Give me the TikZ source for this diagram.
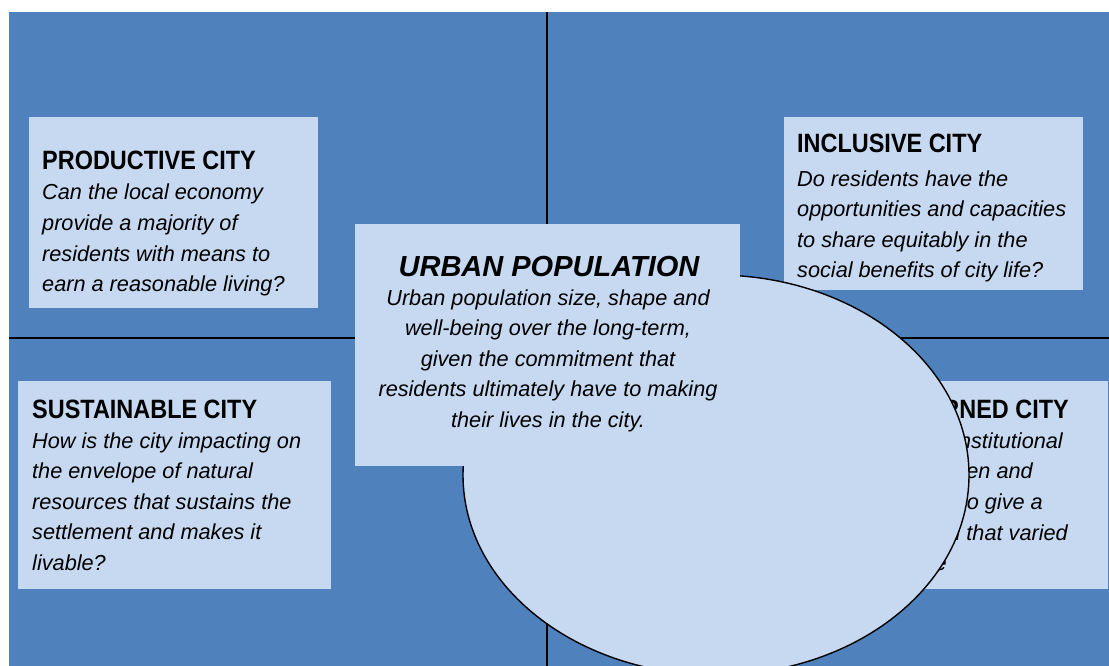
\documentclass[tikz,border=0pt]{standalone}
\usepackage{fontspec}
\setmainfont{Liberation Sans}
\newfontfamily\titlefont{Liberation Sans}[FakeStretch=0.885]
\usetikzlibrary{shapes.geometric}
\definecolor{bgblue}{HTML}{4F81BD}
\definecolor{boxblue}{HTML}{C6D9F1}
\tikzset{
  qbox/.style={fill=boxblue, inner sep=0pt, outer sep=0pt, anchor=north west},
  divline/.style={draw=black, line width=1.4pt},
  titletext/.style={inner sep=0pt, font=\titlefont\bfseries\fontsize{26.5pt}{30pt}\selectfont},
  bodytext/.style={inner sep=0pt, font=\itshape\fontsize{21.7pt}{30.6pt}\selectfont},
}
\begin{document}
\begin{tikzpicture}[x=1pt, y=-1pt]
\useasboundingbox (0,0) rectangle (1109,666);
% background
\fill[bgblue] (9,12) rectangle (1109,666);
% dividing lines
\coordinate (hl) at (9,338);
\coordinate (hr) at (1109,338);
\coordinate (vt) at (547,12);
\coordinate (vb) at (547,666);
\draw[divline] (hl) -- (hr);
\draw[divline] (vt) -- (vb);
% quadrant boxes
\node[qbox, minimum width=289pt, minimum height=191pt] (prodbox) at (29,117) {};
\node[qbox, minimum width=299pt, minimum height=173pt] (inclbox) at (784,117) {};
\node[qbox, minimum width=313pt, minimum height=208pt] (sustbox) at (18,381) {};
\node[qbox, minimum width=321pt, minimum height=208pt] (govbox) at (787,381) {};
% productive
\node[titletext, anchor=base west] (prodtitle) at (42,170) {PRODUCTIVE CITY};
\node[bodytext, anchor=base west] (prodbody) at (42,200) {\parbox[t]{280pt}{\raggedright
Can the local economy\\
provide a majority of\\
residents with means to\\
earn a reasonable living?}};
% inclusive
\node[titletext, anchor=base west] (incltitle) at (797,153) {INCLUSIVE CITY};
\node[bodytext, anchor=base west] (inclbody) at (797,186) {\parbox[t]{290pt}{\raggedright
Do residents have the\\
opportunities and capacities\\
to share equitably in the\\
social benefits of city life?}};
% sustainable
\node[titletext, anchor=base west] (susttitle) at (32,418) {SUSTAINABLE CITY};
\node[bodytext, anchor=base west] (sustbody) at (32,448) {\parbox[t]{300pt}{\raggedright
How is the city impacting on\\
the envelope of natural\\
resources that sustains the\\
settlement and makes it\\
livable?}};
% well-governed (mostly hidden behind the ellipse)
\node[titletext, anchor=base east] (govtitle) at (1069,418) {WELL-GOVERNED CITY};
\node[bodytext, anchor=base east] (gov1) at (1063,448) {Is there the institutional};
\node[bodytext, anchor=base east] (gov2) at (1033,478) {ties between citizen and};
\node[bodytext, anchor=base east] (gov3) at (1043,509) {the state to give a};
\node[bodytext, anchor=base east] (gov4) at (1068,540) {voice to all that varied};
\node[bodytext, anchor=base east] (gov5) at (947,570) {residents have};
% ellipse
\node[ellipse, draw=black, line width=1.4pt, fill=boxblue, minimum width=506pt, minimum height=400pt, inner sep=0pt] (popell) at (716,475) {};
% urban population box
\node[qbox, minimum width=385pt, minimum height=242pt] (urbbox) at (355,224) {};
\node[inner sep=0pt, anchor=base, font=\bfseries\itshape\fontsize{29pt}{32pt}\selectfont] (urbtitle) at (549,276) {URBAN POPULATION};
\node[bodytext, anchor=base] (urbbody) at (548,305) {\parbox[t]{380pt}{\centering
Urban population size, shape and\\
well-being over the long-term,\\
given the commitment that\\
residents ultimately have to making\\
their lives in the city.}};
\end{tikzpicture}
\end{document}
